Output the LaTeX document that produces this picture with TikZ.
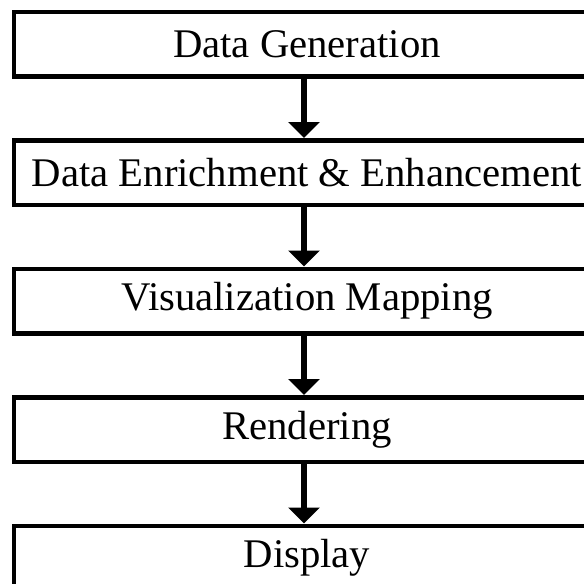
\documentclass[tikz,border=0pt]{standalone}
\usepackage{fontspec}
\setmainfont{Liberation Serif}
\usetikzlibrary{arrows.meta}

\begin{document}
\begin{tikzpicture}[x=1pt, y=-1pt,
  stage/.style={draw, line width=4.5pt, minimum width=586pt, minimum height=64.5pt,
    inner sep=0pt, font=\fontsize{40.7}{44}\selectfont},
  flow/.style={line width=5.5pt, -{Triangle[width=31pt, length=16pt]}}]
  \useasboundingbox (0,0) rectangle (584,584);
  \clip (0,0) rectangle (584,584);
  \fill[white] (0,0) rectangle (584,584);

  % pipeline stages, top to bottom
  \node[stage] (gen)    at (307,44)    {Data Generation};
  \node[stage] (enrich) at (307,172.5) {Data Enrichment \& Enhancement};
  \node[stage] (map)    at (307,301)   {Visualization Mapping};
  \node[stage] (render) at (307,429.5) {Rendering};
  \node[stage] (disp)   at (307,558)   {Display};

  % arrows between consecutive stages
  \draw[flow] ([xshift=-3pt]gen.south)    -- ([xshift=-3pt]enrich.north);
  \draw[flow] ([xshift=-3pt]enrich.south) -- ([xshift=-3pt]map.north);
  \draw[flow] ([xshift=-3pt]map.south)    -- ([xshift=-3pt]render.north);
  \draw[flow] ([xshift=-3pt]render.south) -- ([xshift=-3pt]disp.north);
\end{tikzpicture}
\end{document}
